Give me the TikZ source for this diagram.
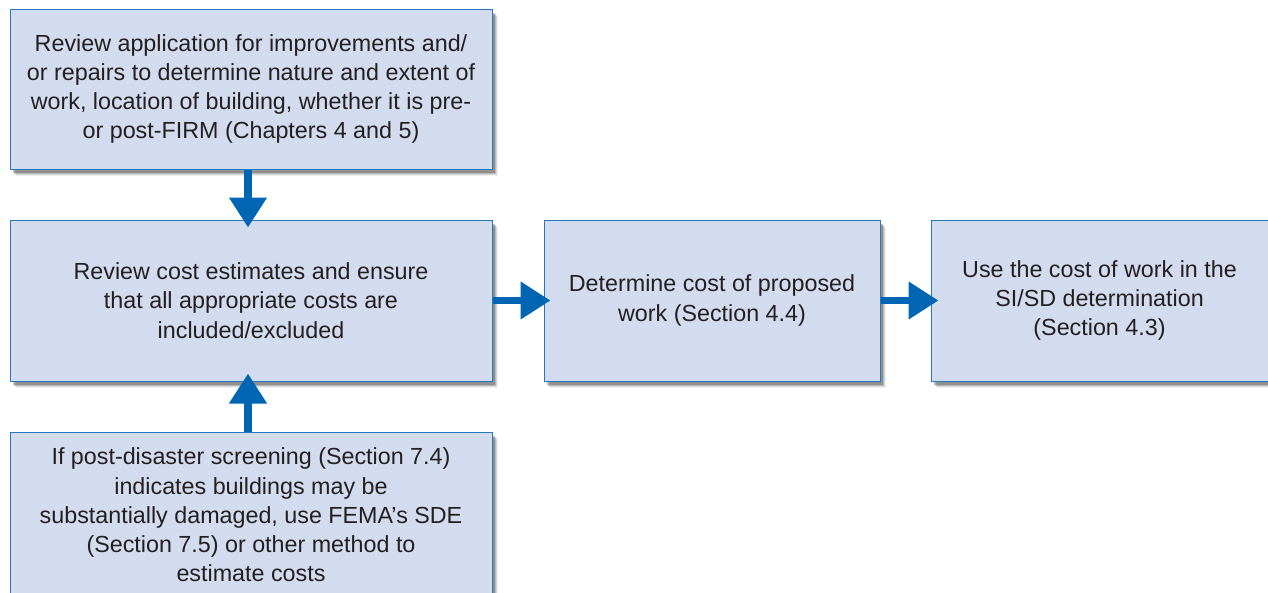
\documentclass[tikz,border=0pt]{standalone}
\usepackage{fontspec}
\setmainfont{Liberation Sans}
\usetikzlibrary{arrows.meta,shadows,calc}
\definecolor{boxfill}{RGB}{211,220,238}
\definecolor{boxline}{RGB}{38,120,192}
\definecolor{arrblue}{RGB}{0,102,179}
\definecolor{txt}{RGB}{35,31,32}
\tikzset{
  flowbox/.style={draw=boxline, line width=1pt, fill=boxfill, align=center,
    text=txt, font=\fontsize{23.3}{29.3}\selectfont, inner sep=0pt,
    general shadow={shadow xshift=6pt, shadow yshift=-7pt, fill=black, opacity=0.06},
    general shadow={shadow xshift=5pt, shadow yshift=-6pt, fill=black, opacity=0.10},
    general shadow={shadow xshift=4pt, shadow yshift=-5pt, fill=black, opacity=0.15},
    general shadow={shadow xshift=3pt, shadow yshift=-4pt, fill=black, opacity=0.22}},
  flowarrow/.style={draw=arrblue, line width=7.5pt,
    -{Triangle[width=36pt, length=30pt, fill=arrblue]}}
}
\begin{document}
\begin{tikzpicture}[x=1pt, y=-1pt]
\useasboundingbox (0,0) rectangle (1268,592);
\node[flowbox, minimum width=482pt, minimum height=160pt] (A) at (251,89)
  {Review application for improvements and/\\or repairs to determine nature and extent of\\work, location of building, whether it is pre-\\or post-FIRM (Chapters 4 and 5)};
\node[flowbox, minimum width=482pt, minimum height=161pt] (B) at (251,300.5)
  {Review cost estimates and ensure\\that all appropriate costs are\\included/excluded};
\node[flowbox, minimum width=336pt, minimum height=161pt] (C) at (712,300.5)
  {Determine cost of proposed\\work (Section 4.4)};
\node[flowbox, minimum width=337pt, minimum height=161pt] (D) at (1099.5,300.5)
  {Use the cost of work in the\\SI/SD determination\\(Section 4.3)};
\node[flowbox, minimum width=482pt, minimum height=166pt] (E) at (251,515)
  {If post-disaster screening (Section 7.4)\\indicates buildings may be\\substantially damaged, use FEMA’s SDE\\(Section 7.5) or other method to\\estimate costs};
\draw[flowarrow] (A.south -| 248,0) -- ($(B.north -| 248,0)+(0,8)$);
\draw[flowarrow] (E.north -| 248,0) -- ($(B.south -| 248,0)+(0,-8)$);
\draw[flowarrow] (B.east) -- ($(C.west)+(7,0)$);
\draw[flowarrow] (C.east) -- ($(D.west)+(8,0)$);
\end{tikzpicture}
\end{document}
